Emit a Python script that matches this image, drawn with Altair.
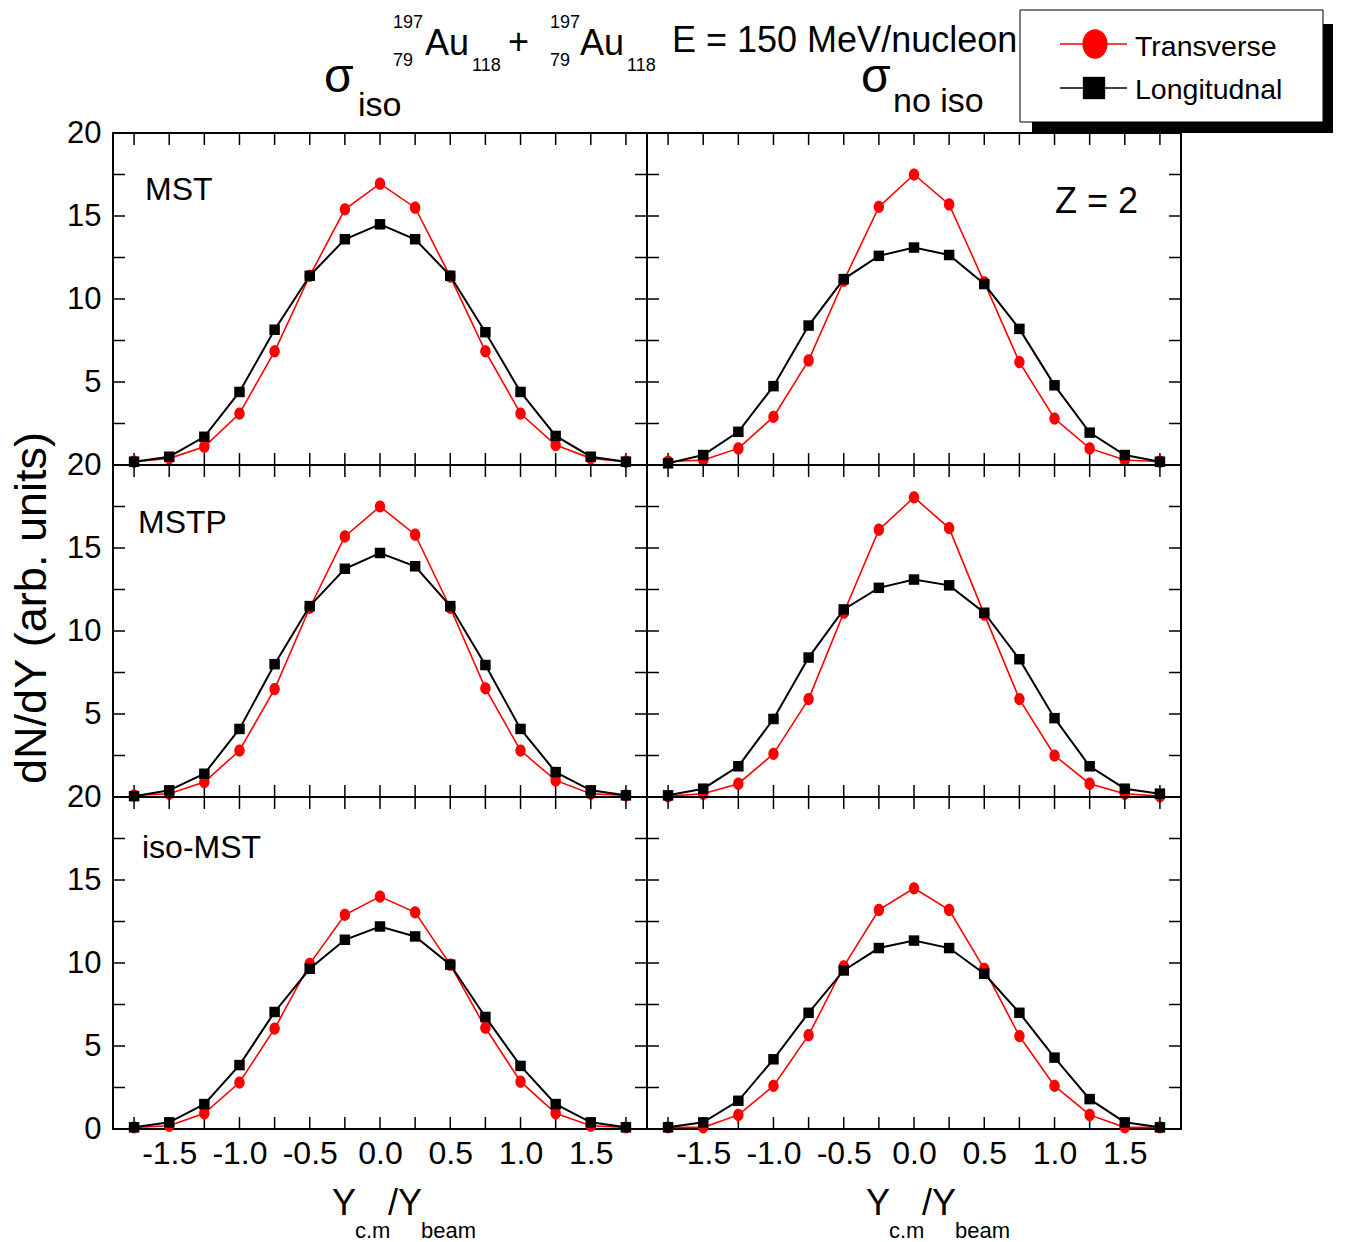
import altair as alt
import pandas as pd

# Reduced rapidity Y_c.m / Y_beam at which dN/dY is sampled
rapidity = [-1.75, -1.5, -1.25, -1.0, -0.75, -0.5, -0.25, 0.0,
            0.25, 0.5, 0.75, 1.0, 1.25, 1.5, 1.75]

# MST clusterisation
mst_iso_trans = [0.2, 0.4, 1.1, 3.1, 6.85, 11.4, 15.4, 16.95, 15.5, 11.35, 6.85, 3.1, 1.2, 0.4, 0.2]
mst_iso_long = [0.2, 0.5, 1.7, 4.4, 8.15, 11.4, 13.6, 14.5, 13.6, 11.4, 8.0, 4.4, 1.75, 0.5, 0.2]
mst_noiso_trans = [0.2, 0.3, 1.0, 2.9, 6.3, 11.1, 15.55, 17.5, 15.7, 11.0, 6.2, 2.8, 1.0, 0.3, 0.2]
mst_noiso_long = [0.1, 0.6, 2.0, 4.75, 8.4, 11.2, 12.6, 13.1, 12.65, 10.9, 8.2, 4.8, 1.95, 0.6, 0.2]

# MSTP clusterisation
mstp_iso_trans = [0.1, 0.2, 0.9, 2.8, 6.5, 11.4, 15.7, 17.5, 15.8, 11.4, 6.55, 2.8, 1.0, 0.2, 0.1]
mstp_iso_long = [0.05, 0.4, 1.4, 4.1, 8.0, 11.5, 13.75, 14.7, 13.9, 11.5, 7.95, 4.1, 1.5, 0.4, 0.1]
mstp_noiso_trans = [0.05, 0.2, 0.8, 2.6, 5.9, 11.1, 16.1, 18.05, 16.2, 11.0, 5.9, 2.5, 0.8, 0.2, 0.05]
mstp_noiso_long = [0.1, 0.5, 1.85, 4.7, 8.4, 11.3, 12.6, 13.1, 12.75, 11.1, 8.3, 4.75, 1.85, 0.5, 0.2]

# iso-MST clusterisation
isomst_iso_trans = [0.1, 0.2, 0.95, 2.8, 6.05, 9.95, 12.9, 14.0, 13.05, 9.9, 6.1, 2.85, 0.95, 0.2, 0.1]
isomst_iso_long = [0.1, 0.4, 1.5, 3.85, 7.05, 9.65, 11.4, 12.2, 11.6, 9.9, 6.75, 3.8, 1.5, 0.4, 0.1]
isomst_noiso_trans = [0.1, 0.1, 0.85, 2.6, 5.65, 9.8, 13.2, 14.5, 13.2, 9.65, 5.6, 2.6, 0.85, 0.1, 0.1]
isomst_noiso_long = [0.1, 0.4, 1.7, 4.2, 7.0, 9.55, 10.9, 11.35, 10.9, 9.35, 7.0, 4.3, 1.8, 0.4, 0.1]

row_labels = ["MST", "MSTP", "iso-MST"]
series_names = ["Transverse", "Longitudnal"]
panel_series = [
    [(mst_iso_trans, mst_iso_long), (mst_noiso_trans, mst_noiso_long)],
    [(mstp_iso_trans, mstp_iso_long), (mstp_noiso_trans, mstp_noiso_long)],
    [(isomst_iso_trans, isomst_iso_long), (isomst_noiso_trans, isomst_noiso_long)],
]

x_label_values = [-1.5, -1.0, -0.5, 0.0, 0.5, 1.0, 1.5]
x_tick_values = [-1.75, -1.5, -1.25, -1.0, -0.75, -0.5, -0.25, 0.0,
                 0.25, 0.5, 0.75, 1.0, 1.25, 1.5, 1.75]
y_tick_values = [2.5, 5, 7.5, 10, 12.5, 15, 17.5]

RED = "#ff0000"
BLACK = "#000000"
SANS = "Liberation Sans, Arial, sans-serif"
ELLIPSE = "M0,-1A0.85,1 0 1,1 0,1A0.85,1 0 1,1 0,-1Z"

W, H = 534, 332
TICK = 12

x_scale = alt.Scale(domain=[-1.9, 1.9], nice=False, zero=False)
y_scale = alt.Scale(domain=[0, 20], nice=False, zero=False)


def one(label):
    return pd.DataFrame({"label": [label]})


def text(label, x, y, size, align="left", angle=None, baseline="alphabetic"):
    kw = dict(font=SANS, fontSize=size, align=align, baseline=baseline, color=BLACK)
    if angle is not None:
        kw["angle"] = angle
    return alt.Chart(one(label)).mark_text(**kw).encode(
        text="label:N", x=alt.value(x), y=alt.value(y)
    )


def panel(r, c):
    trans, longi = panel_series[r][c]
    df = pd.DataFrame({
        "x": rapidity * 2,
        "v": trans + longi,
        "kind": [series_names[0]] * len(rapidity) + [series_names[1]] * len(rapidity),
    })

    if r == 2:
        x_axis = alt.Axis(values=x_label_values, ticks=False, domain=False, grid=False,
                          labelFont=SANS, labelFontSize=32, labelColor=BLACK,
                          labelPadding=9, labelFlush=False, labelOverlap=False,
                          labelExpr="replace(format(datum.value, '.1f'), '\u2212', '-')",
                          title=None)
    else:
        x_axis = None
    if c == 0:
        y_vals = [0, 5, 10, 15, 20] if r == 2 else [5, 10, 15, 20]
        y_axis = alt.Axis(values=y_vals, ticks=False, domain=False, grid=False,
                          labelFont=SANS, labelFontSize=31, labelColor=BLACK,
                          labelPadding=12, labelFlush=False, labelOverlap=False,
                          labelBaseline="middle", title=None)
    else:
        y_axis = None

    X = alt.X("x:Q", scale=x_scale, axis=x_axis)
    Y = alt.Y("v:Q", scale=y_scale, axis=y_axis)

    # inward ticks on all four edges
    xt = alt.Chart(pd.DataFrame({"x": x_tick_values}))
    yt = alt.Chart(pd.DataFrame({"v": y_tick_values}))
    ticks = [
        xt.mark_rule(color=BLACK, strokeWidth=1.5).encode(x=X, y=alt.value(H), y2=alt.value(H - TICK)),
        xt.mark_rule(color=BLACK, strokeWidth=1.5).encode(x=X, y=alt.value(0), y2=alt.value(TICK)),
        yt.mark_rule(color=BLACK, strokeWidth=1.5).encode(y=Y, x=alt.value(0), x2=alt.value(TICK)),
        yt.mark_rule(color=BLACK, strokeWidth=1.5).encode(y=Y, x=alt.value(W), x2=alt.value(W - TICK)),
    ]

    base = alt.Chart(df)
    t = base.transform_filter(alt.datum.kind == series_names[0])
    lg = base.transform_filter(alt.datum.kind == series_names[1])
    data_layers = [
        t.mark_line(color=RED, strokeWidth=1.6).encode(x=X, y=Y),
        t.mark_point(shape=ELLIPSE, filled=True, color=RED, size=150, opacity=1).encode(x=X, y=Y),
        lg.mark_line(color=BLACK, strokeWidth=2).encode(x=X, y=Y),
        lg.mark_point(shape="square", filled=True, color=BLACK, size=110, opacity=1).encode(x=X, y=Y),
    ]

    extras = []
    label_pos = [(32, 67), (25, 68), (29, 61)]
    if c == 0:
        lx, ly = label_pos[r]
        extras.append(text(row_labels[r], lx, ly, 32))
    if r == 0 and c == 1:
        extras.append(text("Z = 2", 408, 80, 36))

    if r == 0 and c == 0:
        # sigma_iso and the reaction line
        extras += [
            text("\u03c3", 211, -41, 48),
            text("iso", 245, -17, 34),
            text("197", 280, -105, 18),
            text("79", 280, -67, 18),
            text("Au", 312, -78, 36),
            text("118", 359, -62, 18),
            text("+", 395, -79, 36),
            text("197", 437, -105, 18),
            text("79", 437, -67, 18),
            text("Au", 467, -78, 36),
            text("118", 514, -62, 18),
            text("E = 150 MeV/nucleon", 559, -81, 36),
        ]
    if r == 0 and c == 1:
        extras += [
            text("\u03c3", 214, -41, 48),
            text("no iso", 246, -21, 34),
        ]
        # legend box with its drop shadow
        extras += [
            alt.Chart(one("shadow")).mark_rect(color=BLACK).encode(
                x=alt.value(385), x2=alt.value(686), y=alt.value(-109), y2=alt.value(0)),
            alt.Chart(one("box")).mark_rect(fill="white", stroke=BLACK, strokeWidth=1).encode(
                x=alt.value(373), x2=alt.value(676), y=alt.value(-123), y2=alt.value(-11)),
            alt.Chart(one(series_names[0])).mark_rule(color=RED, strokeWidth=1.6).encode(
                x=alt.value(413), x2=alt.value(480), y=alt.value(-89)),
            alt.Chart(one(series_names[0])).mark_point(shape=ELLIPSE, filled=True, color=RED,
                                                       size=880, opacity=1).encode(
                x=alt.value(448), y=alt.value(-89)),
            text(series_names[0], 488, -77, 28.5),
            alt.Chart(one(series_names[1])).mark_rule(color=BLACK, strokeWidth=1.6).encode(
                x=alt.value(413), x2=alt.value(480), y=alt.value(-45)),
            alt.Chart(one(series_names[1])).mark_point(shape="square", filled=True, color=BLACK,
                                                       size=500, opacity=1).encode(
                x=alt.value(447), y=alt.value(-45)),
            text(series_names[1], 488, -34, 28.5),
        ]
    if r == 2:
        extras += [
            text("Y", 219, 418, 36),
            text("c.m", 242, 441, 22),
            text("/Y", 275, 418, 36),
            text("beam", 308, 441, 22),
        ]
    if r == 1 and c == 0:
        extras.append(text("dN/dY (arb. units)", -81, 143, 45,
                           align="center", angle=270, baseline="middle"))

    return alt.layer(*ticks, *data_layers, *extras).properties(width=W, height=H)


panels = [panel(r, c) for r in range(3) for c in range(2)]

chart = alt.concat(*panels, columns=2, spacing=0, bounds="flush").properties(
    padding={"left": 8, "top": 8, "right": 10, "bottom": 5},
    background="white",
).configure_view(stroke=BLACK, strokeWidth=2)

chart.save("out.html", embed_options={"renderer": "svg", "actions": False})
